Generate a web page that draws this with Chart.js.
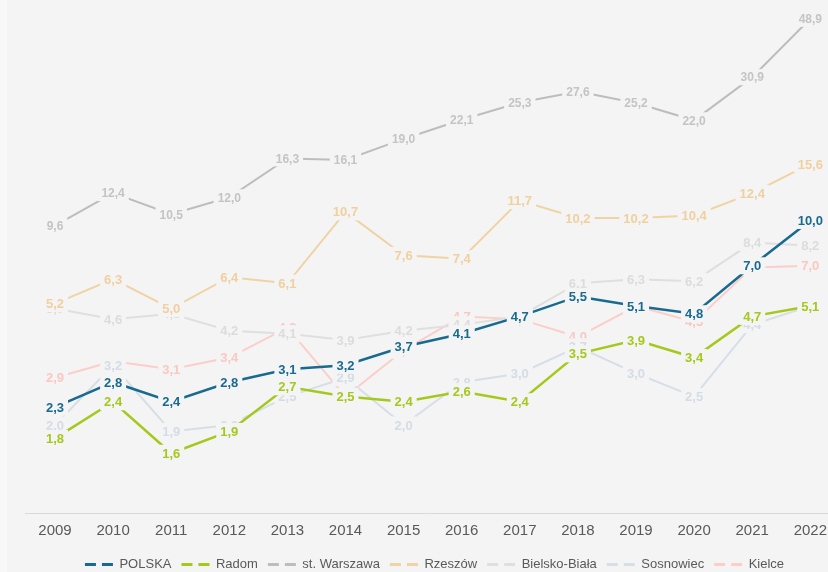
<!DOCTYPE html>
<html>
<head>
<meta charset="utf-8">
<script src="https://cdn.jsdelivr.net/npm/chart.js@4"></script>
<style>
  html, body { margin: 0; padding: 0; background: #f4f4f4; }
  canvas { display: block; }
</style>
</head>
<body>
<canvas id="chart" width="828" height="572"></canvas>
<script>
// lata
const years = ['2009', '2010', '2011', '2012', '2013', '2014', '2015', '2016', '2017', '2018', '2019', '2020', '2021', '2022'];

// serie
const polska     = [2.3, 2.8, 2.4, 2.8, 3.1, 3.2, 3.7, 4.1, 4.7, 5.5, 5.1, 4.8, 7.0, 10.0];
const radom      = [1.8, 2.4, 1.6, 1.9, 2.7, 2.5, 2.4, 2.6, 2.4, 3.5, 3.9, 3.4, 4.7, 5.1];
const warszawa   = [9.6, 12.4, 10.5, 12.0, 16.3, 16.1, 19.0, 22.1, 25.3, 27.6, 25.2, 22.0, 30.9, 48.9];
const rzeszow    = [5.2, 6.3, 5.0, 6.4, 6.1, 10.7, 7.6, 7.4, 11.7, 10.2, 10.2, 10.4, 12.4, 15.6];
const bielsko    = [5.0, 4.6, 4.8, 4.2, 4.1, 3.9, 4.2, 4.4, 4.7, 6.1, 6.3, 6.2, 8.4, 8.2];
const sosnowiec  = [2.0, 3.2, 1.9, 2.0, 2.5, 2.9, 2.0, 2.8, 3.0, 3.7, 3.0, 2.5, 4.4, 5.1];
const kielce     = [2.9, 3.3, 3.1, 3.4, 4.3, 2.5, 3.6, 4.7, 4.6, 4.0, 5.1, 4.5, 6.9, 7.0];

const BG = '#f4f4f4';
const FONT = '"Liberation Sans", Arial, sans-serif';

function serie(label, data, color, labelColor, width, fontSize) {
  return {
    label: label,
    data: data,
    borderColor: color,
    backgroundColor: color,
    borderWidth: width,
    pointRadius: 0,
    pointHoverRadius: 0,
    tension: 0,
    labelColor: labelColor,
    labelSize: fontSize
  };
}

// etykiety wartosci z tlem, zeby linia miala przerwe
const valueLabels = {
  id: 'valueLabels',
  afterDatasetDraw(chart, args) {
    const ctx = chart.ctx;
    const ds = chart.data.datasets[args.index];
    ctx.save();
    ctx.font = 'bold ' + ds.labelSize + 'px ' + FONT;
    ctx.textAlign = 'center';
    ctx.textBaseline = 'middle';
    args.meta.data.forEach((pt, i) => {
      const txt = ds.data[i].toFixed(1).replace('.', ',');
      const w = ctx.measureText(txt).width + 8;
      const h = ds.labelSize + 4;
      ctx.fillStyle = BG;
      ctx.fillRect(pt.x - w / 2, pt.y - h / 2, w, h);
      ctx.fillStyle = ds.labelColor;
      ctx.fillText(txt, pt.x, pt.y + 1);
    });
    ctx.restore();
  }
};

// tlo, linia osi x na cala szerokosc, legenda nizej
const baseLine = {
  id: 'baseLine',
  afterLayout(chart) {
    if (chart.legend) {
      chart.legend.top += 9;
      chart.legend.bottom += 9;
    }
  },
  beforeDraw(chart) {
    const ctx = chart.ctx;
    ctx.save();
    ctx.fillStyle = BG;
    ctx.fillRect(0, 0, chart.width, chart.height);
    ctx.fillStyle = '#f8f8f8';
    ctx.fillRect(0, 0, 7, chart.height);
    ctx.restore();
  },
  beforeDatasetsDraw(chart) {
    const ctx = chart.ctx;
    const y = Math.round(chart.chartArea.bottom) + 0.5;
    ctx.save();
    ctx.strokeStyle = '#d9d9d9';
    ctx.lineWidth = 1;
    ctx.beginPath();
    ctx.moveTo(25, y);
    ctx.lineTo(chart.width, y);
    ctx.stroke();
    ctx.restore();
  }
};

new Chart(document.getElementById('chart'), {
  type: 'line',
  data: {
    labels: years,
    datasets: [
      serie('POLSKA', polska, '#186a8f', '#186a8f', 2.5, 13),
      serie('Radom', radom, '#a5c81c', '#a5c81c', 2.5, 13),
      serie('st. Warszawa', warszawa, '#bdbdbd', '#c4c4c4', 2, 12),
      serie('Rzeszów', rzeszow, '#efd3a3', '#efd09e', 2, 13),
      serie('Bielsko-Biała', bielsko, '#dfdfdf', '#dcdcdc', 2, 13),
      serie('Sosnowiec', sosnowiec, '#d6dee7', '#d4dce5', 2, 13),
      serie('Kielce', kielce, '#fccdc9', '#f9c8c3', 2, 13)
    ]
  },
  options: {
    responsive: false,
    animation: false,
    layout: { padding: { top: 16, left: 55, right: 14, bottom: 0 } },
    plugins: {
      tooltip: { enabled: false },
      legend: {
        position: 'bottom',
        labels: {
          usePointStyle: true,
          pointStyle: 'line',
          pointStyleWidth: 28,
          padding: 10,
          color: '#595959',
          font: { family: FONT, size: 13 },
          generateLabels(chart) {
            return chart.data.datasets.map((ds, i) => ({
              text: ds.label,
              strokeStyle: ds.borderColor,
              fillStyle: ds.borderColor,
              lineWidth: 3,
              lineDash: [11, 6],
              pointStyle: 'line',
              fontColor: '#595959',
              datasetIndex: i
            }));
          }
        }
      }
    },
    scales: {
      x: {
        offset: false,
        grid: { display: false },
        border: { display: false },
        afterFit(scale) { scale.height -= 2; },
        ticks: {
          color: '#595959',
          padding: 1,
          maxRotation: 0,
          autoSkip: false,
          font: { family: FONT, size: 15 }
        }
      },
      y: {
        type: 'logarithmic',
        min: 1,
        max: 50,
        display: false
      }
    }
  },
  plugins: [baseLine, valueLabels]
});
</script>
</body>
</html>
